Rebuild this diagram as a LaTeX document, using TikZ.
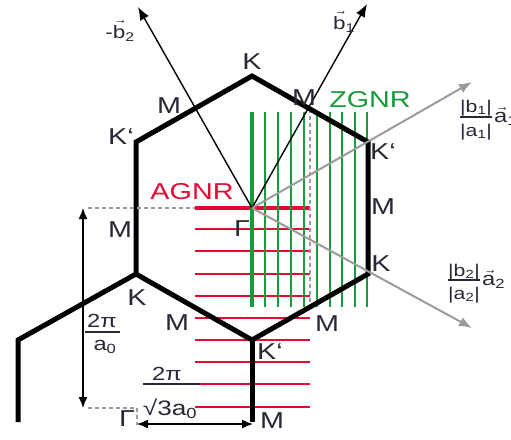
\documentclass[tikz,border=0pt]{standalone}
\usepackage{amsmath}
\usepackage{fontspec}
\setmainfont[FakeStretch=1.25]{Liberation Sans}
\usetikzlibrary{arrows.meta}
\definecolor{ink}{RGB}{40,40,55}
\definecolor{zgreen}{RGB}{25,155,60}
\definecolor{ared}{RGB}{228,10,50}
\definecolor{vgray}{RGB}{155,155,155}
\newcommand{\tx}[1]{\text{#1}}

\begin{document}
\begin{tikzpicture}[x=1pt,y=-1pt,>={Latex[length=13pt,width=10pt]},
  lbl/.style={text=ink,inner sep=0pt,font=\fontsize{23}{26}\selectfont},
  vlbl/.style={text=ink,inner sep=0pt,font=\fontsize{18}{20}\selectfont},
  flbl/.style={text=ink,inner sep=0pt,anchor=base,font=\fontsize{17}{19}\selectfont},
  dlbl/.style={text=ink,inner sep=0pt,anchor=base,font=\fontsize{19}{21}\selectfont},
  fbar/.style={ink,line width=1.8pt},
  bz/.style={line width=5pt,line join=miter},
  zz/.style={draw=zgreen,line width=2pt},
  ac/.style={draw=ared,line width=2pt},
  guide/.style={vgray,line width=1.3pt,dash pattern=on 4pt off 3pt},
  dim/.style={<->,line width=1.4pt,>={Latex[length=11pt,width=9pt]}}]
\useasboundingbox (0,0) rectangle (511,439);
% points of the zone
\coordinate (G) at (252,208);
\coordinate (Kt) at (252,76);
\coordinate (Kpr) at (368,142);
\coordinate (Kr) at (368,274);
\coordinate (Kpb) at (252,340);
\coordinate (Kl) at (136,274);
\coordinate (Kpl) at (136,142);
\coordinate (Mur) at (310,109);
\coordinate (Kn) at (18,340);
\coordinate (Kne) at (18,422);
\coordinate (Mb) at (252,422);
\coordinate (b1) at (367,4);
\coordinate (b2) at (138,7);
\coordinate (a1) at (472,82);
\coordinate (a2) at (472,328);

% ribbons
\foreach \y in {229,251,274,296,318,340,362,384,407}
  \draw[ac] (195,\y) -- (310,\y);
\draw[ared,line width=4pt] (195,208) -- (310,208);
\foreach \x in {265,278,291,304,317,330,342,355,367}
  \draw[zz] (\x,112) -- (\x,307);
\draw[zgreen,line width=4pt] (252,112) -- (252,307);
\draw[guide] (Mur) -- (310,307);

% zone
\draw[bz] (Kt) -- (Kpr) -- (Kr) -- (Kpb) -- (Kl) -- (Kpl) -- cycle;
\draw[bz] (Kl) -- (Kn) -- (Kne);
\draw[bz] (Kpb) -- (Mb);

% vectors
\draw[->,line width=1.4pt] (G) -- (b1);
\draw[->,line width=1.4pt] (G) -- (b2);
\draw[->,vgray,line width=2pt] (G) -- (a1);
\draw[->,vgray,line width=2pt] (G) -- (a2);

% widths
\draw[guide] (88,208) -- (195,208);
\draw[guide] (88,408) -- (134,408);
\draw[guide] (137,408) -- (137,425);
\draw[dim] (83,208) -- (83,408);
\draw[dim] (137,424) -- (253,424);

\node[lbl] (lKt) at (252,62) {K};
\node[lbl] (lMul) at (169,106) {M};
\node[lbl] (lKpl) at (121,137) {K‘};
\node[lbl] (lMur) at (304,98) {M};
\node[lbl] (lKpr) at (383,152) {K‘};
\node[lbl] (lMr) at (383,207) {M};
\node[lbl] (lKr) at (381,264) {K};
\node[lbl] (lMl) at (120,230) {M};
\node[lbl] (lKl) at (137,298) {K};
\node[lbl] (lG) at (242,229) {Γ};
\node[lbl] (lMbl) at (177,323) {M};
\node[lbl] (lMbr) at (327,324) {M};
\node[lbl] (lKpb) at (270,352) {K‘};
\node[lbl] (lMb) at (272,421) {M};
\node[lbl] (lGb) at (127,419) {Γ};
\node[lbl,text=zgreen] (zgnr) at (370,100) {ZGNR};
\node[lbl,text=ared] (agnr) at (192,192) {AGNR};

\node[vlbl] (lb2) at (120,31) {$\tx{-}\vec{\tx{b}}_{\tx{2}}$};
\node[vlbl] (lb1) at (344,22) {$\vec{\tx{b}}_{\tx{1}}$};

% |b1|/|a1| a1
\node[flbl] (nb1) at (476,112) {|b\textsubscript{1}|};
\node[flbl] (na1) at (476,136) {|a\textsubscript{1}|};
\draw[fbar,line width=1.4pt] (460,117) -- (492,117);
\node[flbl,anchor=base west,font=\fontsize{19}{21}\selectfont] (va1) at (494,122) {$\vec{\tx{a}}$\textsubscript{1}};
% |b2|/|a2| a2
\node[flbl] (nb2) at (464,276) {|b\textsubscript{2}|};
\node[flbl] (na2) at (464,299) {|a\textsubscript{2}|};
\draw[fbar,line width=1.4pt] (448,280) -- (480,280);
\node[flbl,anchor=base west,font=\fontsize{19}{21}\selectfont] (va2) at (482,285) {$\vec{\tx{a}}$\textsubscript{2}};
% 2pi/a0
\node[dlbl] (fan) at (102,327) {2π};
\node[dlbl] (fad) at (105,350) {a\textsubscript{0}};
\draw[fbar] (85,332) -- (120,332);
% 2pi/sqrt3 a0
\node[dlbl] (fsn) at (167,380) {2π};
\node[dlbl,font=\fontsize{21}{23}\selectfont] (fsd) at (170,415) {√3a\textsubscript{0}};
\draw[fbar] (143,384) -- (200,384);
\end{tikzpicture}
\end{document}
